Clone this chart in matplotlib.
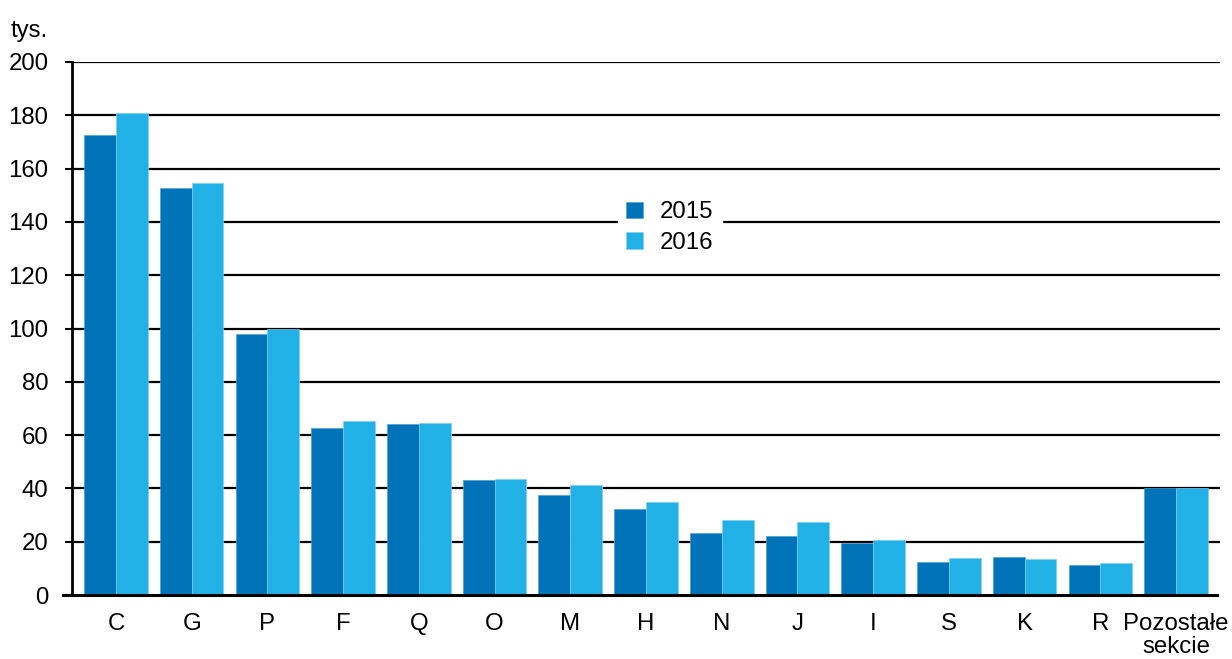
import numpy as np
import matplotlib.pyplot as plt

categories = ["C", "G", "P", "F", "Q", "O", "M", "H", "N", "J", "I", "S", "K", "R", "Pozostałe\nsekcie"]
vals_2015 = [172.7, 152.7, 98.0, 62.7, 64.2, 43.2, 37.5, 32.2, 23.3, 22.3, 19.4, 12.4, 14.1, 11.4, 40.3]
vals_2016 = [180.7, 154.6, 99.8, 65.2, 64.7, 43.4, 41.2, 35.0, 28.0, 27.3, 20.6, 13.8, 13.4, 12.0, 40.3]
years = ["2015", "2016"]
yticks = [0, 20, 40, 60, 80, 100, 120, 140, 160, 180, 200]

plt.rcParams['font.family'] = ['Liberation Sans', 'DejaVu Sans']
fs = 17.3

fig = plt.figure(figsize=(12.32, 6.59), dpi=100)
ax = fig.add_axes([72 / 1232, 1 - 595 / 659, (1220 - 72) / 1232, (595 - 62) / 659])

x = np.arange(len(categories))
w = 0.42
ax.bar(x - w / 2, vals_2015, w, color="#0073B9", edgecolor="#4a9fd4", linewidth=0.5, label=years[0], zorder=3)
ax.bar(x + w / 2, vals_2016, w, color="#21B1E6", edgecolor="#7fd0f0", linewidth=0.5, label=years[1], zorder=3)

ax.set_xlim(-0.58, len(categories) - 0.42)
ax.set_ylim(0, 200)
ax.set_yticks(yticks)
ax.set_xticks(x)
ax.set_xticklabels(categories, fontsize=fs, linespacing=1.05)
ax.tick_params(axis='y', labelsize=fs, length=5, width=1.5, direction='out', pad=12)
ax.tick_params(axis='x', length=0, pad=13)

for t in yticks[1:]:
    ax.axhline(t, color="black", lw=1.6, zorder=1)

for s in ["top", "right", "bottom"]:
    ax.spines[s].set_visible(False)
ax.spines["left"].set_linewidth(2)

# baseline that sticks out a bit past the y axis
ax.plot([-0.008, 0.997], [0, 0], transform=ax.transAxes, color="black", lw=2.2, clip_on=False, zorder=4)

fig.text(11 / 1232, 1 - 31 / 659, "tys.", fontsize=fs, va="center", ha="left")

leg = ax.legend(loc="upper left", bbox_to_anchor=(618 / 1232, 1 - 193 / 659), bbox_transform=fig.transFigure,
                fontsize=fs, frameon=True, framealpha=1, edgecolor="white", fancybox=False,
                handlelength=0.7, handleheight=0.7, handletextpad=0.7, labelspacing=0.35,
                borderpad=0.35, borderaxespad=0)
leg.set_zorder(5)

fig.savefig("out.png", dpi=100)
